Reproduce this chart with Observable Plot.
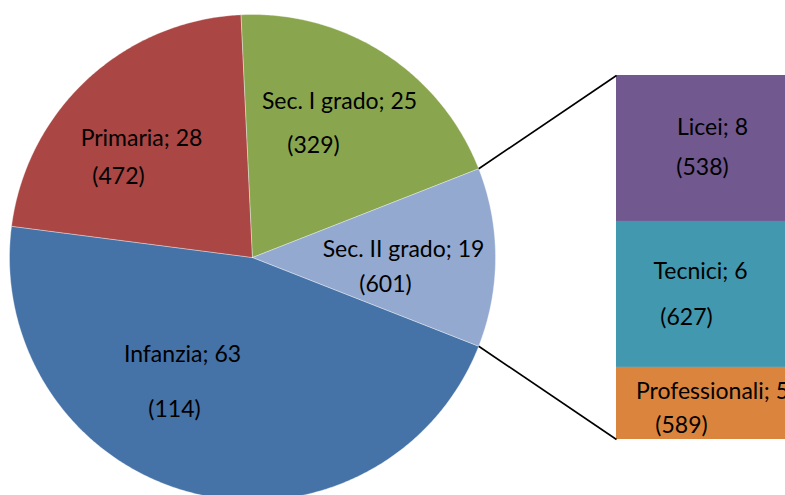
<!DOCTYPE html>
<html><head><meta charset="utf-8">
<script src="https://cdn.jsdelivr.net/npm/d3@7"></script>
<script src="https://cdn.jsdelivr.net/npm/@observablehq/plot@0.6"></script>
<style>
html,body{margin:0;padding:0;background:#fff;overflow:hidden;width:785px;height:495px}
#chart svg{display:block}
</style>
</head><body><div id="chart"></div>
<script>
// ---- data ----
const pieCategories = ["Infanzia", "Primaria", "Sec. I grado", "Sec. II grado"];
const pieLabelValues = [63, 28, 25, 19];
const pieCodes = [114, 472, 329, 601];
const pieShares = [46.1, 22.2, 19.8, 11.9];   // share of the circle, from the slice angles
const barCategories = ["Licei", "Tecnici", "Professionali"];
const barLabelValues = [8, 6, 5];
const barCodes = [538, 627, 589];
const barShares = [40.1, 40.1, 19.8];         // share of the bar height

// ---- style / layout ----
const pieColors = ["#4572A7", "#AA4643", "#89A54E", "#93A9CF"];
const barColors = ["#71588F", "#4198AF", "#DB843D"];
const W = 785, H = 495;
const cx = 252, cy = 257, R = 243;
const barX1 = 616, barX2 = 808, barTop = 75, barBottom = 439;
const font = "Lato, 'Open Sans', sans-serif";
const fs = 23;
// label anchors: [x1, y1 baseline, x2, y2 baseline] for name line and code line
const pieLabelLayout = [[182, 361, 174, 416], [141, 145, 118, 183], [339, 108, 313, 152], [403, 256, 385, 291]];
const barLabelLayout = [[712, 134, 702, 174], [700, 278, 686, 324], [712, 398, 681, 432]];

// ---- geometry from data ----
const deg = Math.PI / 180;
const total = d3.sum(pieShares);
const otherSpan = pieShares[3] / total * 360;
let a = 90 + otherSpan / 2; // the split slice is centred at 3 o'clock
const slices = pieCategories.map((c, i) => {
  const span = pieShares[i] / total * 360;
  const s = {cat: c, a0: a, a1: a + span, color: pieColors[i]};
  a += span;
  return s;
});
const polar = (ang, r) => [cx + r * Math.sin(ang * deg), cy - r * Math.cos(ang * deg)];
const piePts = [];
slices.forEach(s => {
  piePts.push({cat: s.cat, color: s.color, x: cx, y: cy});
  const n = Math.max(2, Math.ceil((s.a1 - s.a0) / 0.5));
  for (let k = 0; k <= n; k++) {
    const [x, y] = polar(s.a0 + (s.a1 - s.a0) * k / n, R);
    piePts.push({cat: s.cat, color: s.color, x, y});
  }
  piePts.push({cat: s.cat, color: s.color, x: cx, y: cy});
});

const barTotal = d3.sum(barShares);
let cum = 0;
const barRects = barCategories.map((c, i) => {
  const y1 = barTop + cum / barTotal * (barBottom - barTop);
  cum += barShares[i];
  const y2 = barTop + cum / barTotal * (barBottom - barTop);
  return {cat: c, y1, y2, color: barColors[i]};
});

const sII = slices[3];
const edgeA = polar(sII.a0, R), edgeB = polar(sII.a1, R);
const topEdge = edgeA[1] < edgeB[1] ? edgeA : edgeB;
const botEdge = edgeA[1] < edgeB[1] ? edgeB : edgeA;
const connectors = [
  {x1: topEdge[0], y1: topEdge[1], x2: barX1, y2: barTop},
  {x1: botEdge[0], y1: botEdge[1], x2: barX1, y2: barBottom}
];

const texts = [];
pieCategories.forEach((c, i) => {
  const L = pieLabelLayout[i];
  texts.push({x: L[0], y: L[1], t: `${c}; ${pieLabelValues[i]}`});
  texts.push({x: L[2], y: L[3], t: `(${pieCodes[i]})`});
});
barCategories.forEach((c, i) => {
  const L = barLabelLayout[i];
  texts.push({x: L[0], y: L[1], t: `${c}; ${barLabelValues[i]}`});
  texts.push({x: L[2], y: L[3], t: `(${barCodes[i]})`});
});

const chart = Plot.plot({
  width: W, height: H,
  margin: 0,
  style: {background: "#fff", overflow: "hidden"},
  x: {domain: [0, W], range: [0, W], axis: null},
  y: {domain: [0, H], range: [0, H], axis: null},
  marks: [
    Plot.line(piePts, {x: "x", y: "y", z: "cat", fill: "color", stroke: "#ffffff", strokeWidth: 0.6, strokeOpacity: 0.6, curve: "linear"}),
    Plot.rect(barRects, {x1: () => barX1, x2: () => barX2, y1: "y1", y2: "y2", fill: "color"}),
    Plot.link(connectors, {x1: "x1", y1: "y1", x2: "x2", y2: "y2", stroke: "#000", strokeWidth: 1.6}),
    Plot.text(texts, {x: "x", y: "y", text: "t", fontSize: fs, fontFamily: font, fill: "#000", textAnchor: "middle", lineAnchor: "bottom"})
  ]
});
document.getElementById("chart").appendChild(chart);
</script>
</body></html>
